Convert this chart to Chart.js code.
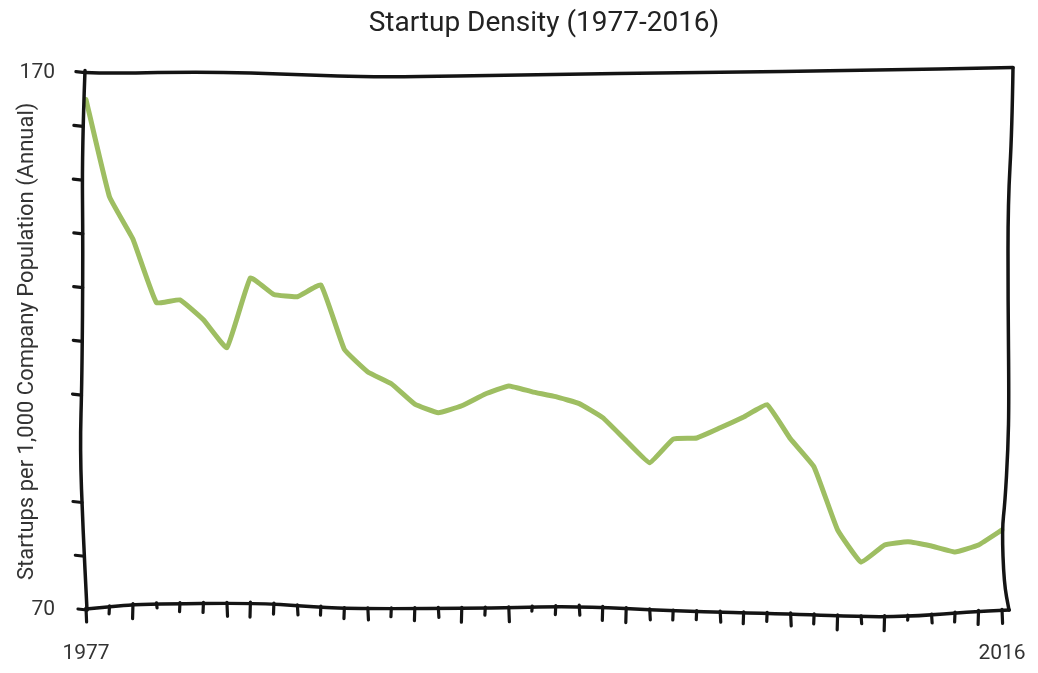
<!DOCTYPE html>
<html>
<head>
<meta charset="utf-8">
<script src="https://cdn.jsdelivr.net/npm/chart.js@4.4.0/dist/chart.umd.min.js"></script>
<style>
  html, body { margin: 0; padding: 0; background: #fff; overflow: hidden; }
  #wrap { width: 1038px; height: 673px; }
  canvas { display: block; }
</style>
</head>
<body>
<div id="wrap"><canvas id="chart" width="1038" height="673"></canvas></div>
<script>
// data
const years = ['1977', '1978', '1979', '1980', '1981', '1982', '1983', '1984', '1985', '1986',
               '1987', '1988', '1989', '1990', '1991', '1992', '1993', '1994', '1995', '1996',
               '1997', '1998', '1999', '2000', '2001', '2002', '2003', '2004', '2005', '2006',
               '2007', '2008', '2009', '2010', '2011', '2012', '2013', '2014', '2015', '2016'];
const startupDensity = [165.0, 146.9, 139.0, 127.2, 127.7, 124.0, 118.8, 131.8, 128.7, 128.3,
                        130.5, 118.5, 114.3, 112.1, 108.3, 106.7, 108.0, 110.2, 111.7, 110.6,
                        109.7, 108.4, 105.8, 101.5, 97.4, 101.8, 102.0, 103.9, 105.9, 108.2,
                        101.8, 96.6, 84.9, 78.9, 82.1, 82.7, 81.9, 80.8, 82.1, 84.9];
const xLabelYears = ['1977', '2016'];
const yLabelValues = [70, 170];
const yMissingTicks = [100];

const lineColor = '#9ebe62';
const inkColor = '#141414';

// hand drawn frame: [fraction along side, offset in px]
const topWobble = [[-0.001, 0], [0.027, 1], [0.13, -1], [0.23, 2], [0.32, 5], [0.49, 2], [0.67, 0], [0.85, -2], [1.012, -5]];
const rightWobble = [[-0.009, 11], [0.11, 10], [0.24, 6], [0.42, 6], [0.61, 7], [0.7, 6], [0.8, 3], [0.85, 0], [0.95, 2], [1.0, 7]];
const bottomWobble = [[0, -1], [0.023, -3], [0.059, -6], [0.19, -7], [0.234, -4], [0.291, -1], [0.452, -2],
                      [0.536, -4], [0.641, 1], [0.772, 4], [0.853, 7], [0.91, 6], [0.962, 2], [1.008, 0]];
const leftWobble = [[-0.004, -1], [0.143, -4], [0.33, -3], [0.57, -4], [0.7, -6], [0.85, -3], [1.0, 1]];
const xTickLen = [14, 7, 14, 4, 8, 9, 13, 14, 10, 9, 8, 10, 11, 8, 12, 9];

function wob(list, t) {
    if (t <= list[0][0]) return list[0][1];
    for (let i = 1; i < list.length; i++) {
        if (t <= list[i][0]) {
            const a = list[i - 1], b = list[i];
            return a[1] + (b[1] - a[1]) * (t - a[0]) / (b[0] - a[0]);
        }
    }
    return list[list.length - 1][1];
}

function strokeSmooth(ctx, pts) {
    ctx.beginPath();
    ctx.moveTo(pts[0][0], pts[0][1]);
    for (let i = 1; i < pts.length - 1; i++) {
        const mx = (pts[i][0] + pts[i + 1][0]) / 2;
        const my = (pts[i][1] + pts[i + 1][1]) / 2;
        ctx.quadraticCurveTo(pts[i][0], pts[i][1], mx, my);
    }
    const last = pts[pts.length - 1];
    ctx.lineTo(last[0], last[1]);
    ctx.stroke();
}

const sketchFrame = {
    id: 'sketchFrame',
    afterDatasetsDraw(chart) {
        const { ctx, chartArea: a, scales: { x, y } } = chart;
        const W = a.right - a.left, H = a.bottom - a.top;
        ctx.save();
        ctx.strokeStyle = inkColor;
        ctx.lineCap = 'round';
        ctx.lineJoin = 'round';
        ctx.lineWidth = 3.5;

        // box sides
        strokeSmooth(ctx, topWobble.map(([t, d]) => [a.left + t * W, a.top + d]));
        strokeSmooth(ctx, rightWobble.map(([t, d]) => [a.right + d, a.top + t * H]));
        strokeSmooth(ctx, bottomWobble.map(([t, d]) => [a.left + t * W, a.bottom + d]));
        strokeSmooth(ctx, leftWobble.map(([t, d]) => [a.left + d, a.top + t * H]));

        // x ticks, one per year
        ctx.lineWidth = 3.2;
        x.ticks.forEach((tk, i) => {
            const px = x.getPixelForTick(i);
            const y0 = a.bottom + wob(bottomWobble, (px - a.left) / W);
            const len = i === 0 || i === x.ticks.length - 1 ? 13 : xTickLen[i % xTickLen.length];
            const tilt = (i % 3 === 0) ? 0.6 : -0.4;
            ctx.beginPath();
            ctx.moveTo(px, y0 - 1);
            ctx.lineTo(px + tilt, y0 + len);
            ctx.stroke();
        });

        // y ticks
        y.ticks.forEach((tk) => {
            if (yMissingTicks.includes(tk.value)) return;
            const py = y.getPixelForValue(tk.value);
            const x0 = a.left + wob(leftWobble, (py - a.top) / H);
            ctx.beginPath();
            ctx.moveTo(x0, py);
            ctx.lineTo(x0 - 9, py - 1);
            ctx.stroke();
        });
        ctx.restore();
    }
};

new Chart(document.getElementById('chart'), {
    type: 'line',
    data: {
        labels: years,
        datasets: [{
            data: startupDensity,
            borderColor: lineColor,
            borderWidth: 5,
            pointRadius: 0,
            tension: 0.1,
            borderJoinStyle: 'round',
            borderCapStyle: 'round'
        }]
    },
    options: {
        responsive: true,
        maintainAspectRatio: false,
        animation: false,
        layout: { padding: { left: 8, right: 36, top: 0, bottom: 7 } },
        plugins: {
            legend: { display: false },
            tooltip: { enabled: false },
            title: {
                display: true,
                fullSize: false,
                text: 'Startup Density (1977-2016)',
                color: '#222',
                font: { family: 'Roboto', size: 28, weight: 'normal' },
                padding: { top: 7, bottom: 32 }
            }
        },
        scales: {
            x: {
                grid: { display: false, drawTicks: false },
                border: { display: false },
                ticks: {
                    autoSkip: false,
                    maxRotation: 0,
                    padding: 31,
                    color: '#333',
                    font: { family: 'Roboto', size: 21 },
                    callback: function(v) {
                        const lab = this.getLabelForValue(v);
                        return xLabelYears.includes(lab) ? lab : '';
                    }
                },
                afterFit: s => { s.height = 56; s.paddingLeft = 0; s.paddingRight = 0; }
            },
            y: {
                min: 70,
                max: 170,
                grid: { display: false, drawTicks: false },
                border: { display: false },
                ticks: {
                    stepSize: 10,
                    padding: 31,
                    color: '#333',
                    font: { family: 'Roboto', size: 21 },
                    callback: v => yLabelValues.includes(v) ? String(v) : ''
                },
                title: {
                    display: true,
                    text: 'Startups per 1,000 Company Population (Annual)',
                    color: '#333',
                    font: { family: 'Roboto', size: 22 },
                    padding: { top: 6, bottom: 0 }
                },
                afterFit: s => { s.width = 78; s.paddingTop = 0; s.paddingBottom = 0; }
            }
        }
    },
    plugins: [sketchFrame]
});
</script>
</body>
</html>
